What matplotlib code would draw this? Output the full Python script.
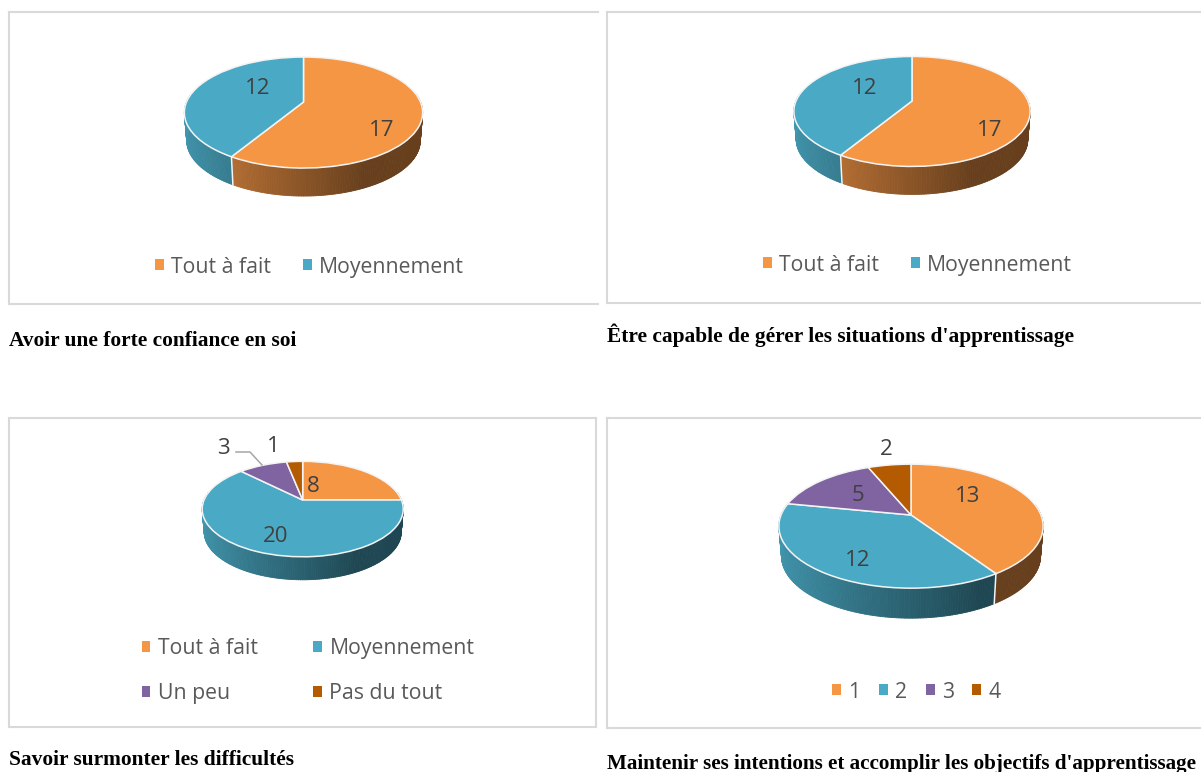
import numpy as np
import matplotlib
matplotlib.use("Agg")
import matplotlib.pyplot as plt
from matplotlib.collections import PolyCollection
from matplotlib.patches import Patch
from matplotlib.transforms import Transform

# ---- data ----
titles = ["Avoir une forte confiance en soi",
          "Être capable de gérer les situations d'apprentissage",
          "Savoir surmonter les difficultés",
          "Maintenir ses intentions et accomplir les objectifs d'apprentissage"]
labels_a = ["Tout à fait", "Moyennement"]
values_a = [17, 12]
labels_b = ["Tout à fait", "Moyennement"]
values_b = [17, 12]
labels_c = ["Tout à fait", "Moyennement", "Un peu", "Pas du tout"]
values_c = [8, 20, 3, 1]
labels_d = ["1", "2", "3", "4"]
values_d = [13, 12, 5, 2]
colors = ["#F59645", "#4AAAC5", "#8064A2", "#B45A00"]

W, H = 1201, 772
FRAME = "#D9D9D9"
TXT = "#404040"
LEG = "#595959"
plt.rcParams["font.family"] = ["Open Sans", "DejaVu Sans"]


class Tilt(Transform):
    """Perspective view of the unit-circle pie, in figure pixels."""
    input_dims = output_dims = 2
    is_separable = False
    has_inverse = False

    def __init__(self, cx, cy, rx, ry, k):
        super().__init__()
        self.p = (cx, cy, rx, ry, k)

    def transform_non_affine(self, v):
        cx, cy, rx, ry, k = self.p
        v = np.asarray(v, float)
        w = 1 + k * v[:, 1]
        return np.column_stack([cx + rx * v[:, 0] / w, cy - ry * v[:, 1] / w])


def shade(base, x):
    u = (x + 1) / 2
    f = 0.88 - 0.46 * np.minimum(u / 0.72, 1)
    return np.array(matplotlib.colors.to_rgb(base)) * f


panels = [
    dict(box=(9, 12, 598, 304), right=False, vals=values_a, labs=labels_a,
         geo=(303.5, 102, 117, 53.5, 0.19), depth=28,
         pos=[(382, 130), (258, 88)], leg=(309.5, 267), ncol=2, csp=1.5),
    dict(box=(607, 12, 1280, 303), right=False, vals=values_b, labs=labels_b,
         geo=(912, 101, 116, 53, 0.19), depth=28,
         pos=[(990, 130), (865, 89)], leg=(917.5, 265), ncol=2, csp=1.5),
    dict(box=(9, 418, 596, 727), right=True, vals=values_c, labs=labels_c,
         geo=(302.7, 500, 98.7, 46, 0.19), depth=23,
         pos=[(313, 487), (276, 536), (223, 449), (273, 447)], leg=(308, 671), ncol=2, csp=2.6),
    dict(box=(607, 418, 1280, 728), right=False, vals=values_d, labs=labels_d,
         geo=(911, 515, 130, 60, 0.18), depth=30,
         pos=[(968, 496), (858, 560), (858, 495), (886, 449)], leg=(916.5, 692), ncol=4, csp=0.86),
]

fig = plt.figure(figsize=(W / 100, H / 100), dpi=100, facecolor="white")

for p in panels:
    x0, y0, x1, y1 = p["box"]
    ax = fig.add_axes([x0 / W, 1 - y1 / H, (x1 - x0) / W, (y1 - y0) / H])
    tilt = Tilt(*p["geo"])
    vals = np.array(p["vals"], float)
    cols = colors[:len(vals)]
    ax.pie(vals, colors=cols, startangle=90, counterclock=False, radius=1,
           wedgeprops=dict(transform=tilt + ax.transData, edgecolor="#F4F4F4",
                           linewidth=1.1, zorder=3))
    ax.set_aspect("auto")
    ax.set_xlim(x0, x1)
    ax.set_ylim(y1, y0)
    ax.set_frame_on(True)
    ax.set_xticks([])
    ax.set_yticks([])
    for name, s in ax.spines.items():
        s.set_color(FRAME)
        s.set_linewidth(1.5)
    ax.spines["right"].set_visible(p["right"])

    # side wall of the pie: lower rim slightly narrower than the top rim
    edges = np.cumsum(np.r_[0, vals]) / vals.sum() * 2 * np.pi
    depth = p["depth"]
    cx = p["geo"][0]

    def lower(pt):
        return np.array([cx + (pt[0] - cx) * 0.98, pt[1] + depth])

    for i, c in enumerate(cols):
        a, b = max(edges[i], np.radians(80)), min(edges[i + 1], np.radians(280))
        if b <= a:
            continue
        n = max(int(np.degrees(b - a)), 2)
        t = np.linspace(a, b, n + 1)
        rim = tilt.transform_non_affine(np.column_stack([np.sin(t), np.cos(t)]))
        polys, fc = [], []
        for j in range(n):
            polys.append([rim[j], rim[j + 1], lower(rim[j + 1]), lower(rim[j])])
            fc.append(shade(c, np.sin((t[j] + t[j + 1]) / 2)))
        ax.add_collection(PolyCollection(polys, facecolors=fc, edgecolors=fc,
                                         linewidths=0.6, zorder=2))
    for e in edges[1:-1]:
        if np.radians(90) < e < np.radians(270):
            r = tilt.transform_non_affine(np.array([[np.sin(e), np.cos(e)]]))[0]
            q = lower(r)
            ax.plot([r[0], q[0]], [r[1], q[1]], color="#F4F4F4", lw=1.1, zorder=2.5)

    for v, (tx, ty) in zip(p["vals"], p["pos"]):
        ax.text(tx, ty, str(v), ha="center", va="center", fontsize=16, color=TXT, zorder=5)

    handles = [Patch(facecolor=c, edgecolor="none") for c in cols]
    labs = list(p["labs"])
    if p["vals"] is values_c:
        order = [0, 2, 1, 3]  # legend reads row by row in the original
        handles = [handles[i] for i in order]
        labs = [labs[i] for i in order]
    ax.legend(handles, labs, loc="center", ncol=p["ncol"],
              bbox_to_anchor=p["leg"], bbox_transform=ax.transData,
              frameon=False, fontsize=15.3, labelcolor=LEG, borderpad=0, borderaxespad=0,
              handlelength=0.42, handleheight=0.42, handletextpad=0.35,
              columnspacing=p["csp"], labelspacing=1.14)

    if p["vals"] is values_c:
        ax.plot([236, 250, 262], [452, 452, 465], color="#A6A6A6", lw=1.1, zorder=4)

title_pos = [(9, 346), (607, 342), (9, 765), (607, 769)]
title_size = [15.4, 15.4, 15.4, 15.25]
for s, (tx, ty), fs in zip(titles, title_pos, title_size):
    fig.text(tx / W, 1 - ty / H, s, family="Liberation Serif", weight="bold",
             fontsize=fs, color="black", ha="left", va="baseline")

fig.savefig("out.png", dpi=100)
